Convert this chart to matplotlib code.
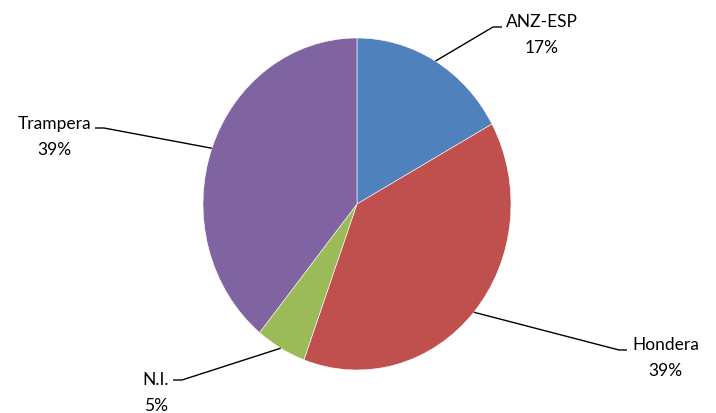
import numpy as np
import matplotlib
matplotlib.use("Agg")
import matplotlib.pyplot as plt

categories = ["ANZ-ESP", "Hondera", "N.I.", "Trampera"]
values = [17.0, 38.6, 5.3, 39.1]
pct_labels = ["17%", "39%", "5%", "39%"]
colors = ["#4F81BD", "#C0504D", "#9BBB59", "#8064A2"]

W, H = 716, 414
fig = plt.figure(figsize=(W / 100, H / 100), dpi=100)

# pie axes (slightly taller than wide, as in the reference)
cx, cy, rx, ry = 357, 205, 154, 166
pie_ax = fig.add_axes([(cx - rx) / W, (H - (cy + ry)) / H, 2 * rx / W, 2 * ry / H])
wedges, _ = pie_ax.pie(values, colors=colors, startangle=90, counterclock=False,
                       radius=1.0, wedgeprops=dict(edgecolor="white", linewidth=0.4))
pie_ax.set_aspect("auto")
pie_ax.set_xlim(-1, 1)
pie_ax.set_ylim(-1, 1)
pie_ax.axis("off")

# overlay axes in image pixel coordinates
ov = fig.add_axes([0, 0, 1, 1])
ov.set_xlim(0, W)
ov.set_ylim(H, 0)
ov.axis("off")
ov.set_zorder(5)

font = dict(family=["Lato", "DejaVu Sans"], fontsize=12.5, color="black")

# label layout: elbow point, end point, anchor x of name, side, name y, pct y
layout = {
    "ANZ-ESP": ((493, 28), (502, 28), 506, "left", 22, 48),
    "Hondera": ((619, 351), (627, 351), 632, "left", 345, 371),
    "N.I.": ((182, 381), (173, 381), 169, "right", 380, 406),
    "Trampera": ((104, 129), (95, 129), 91, "right", 124, 150),
}

fig.canvas.draw()
renderer = fig.canvas.get_renderer()
inv = ov.transData.inverted()
for w, cat, pct in zip(wedges, categories, pct_labels):
    mid = np.deg2rad((w.theta1 + w.theta2) / 2)
    edge_disp = pie_ax.transData.transform((np.cos(mid), np.sin(mid)))
    ex, ey = inv.transform(edge_disp)
    elbow, end, ax_x, side, ny, py = layout[cat]
    ov.plot([ex, elbow[0], end[0]], [ey, elbow[1], end[1]], color="black", lw=1.0,
            solid_capstyle="butt")
    t = ov.text(ax_x, ny, cat, ha=side, va="center", **font)
    bb = t.get_window_extent(renderer)
    cxd = (bb.x0 + bb.x1) / 2
    tx = inv.transform((cxd, 0))[0]
    ov.text(tx, py, pct, ha="center", va="center", **font)

fig.savefig("out.png", dpi=100)
